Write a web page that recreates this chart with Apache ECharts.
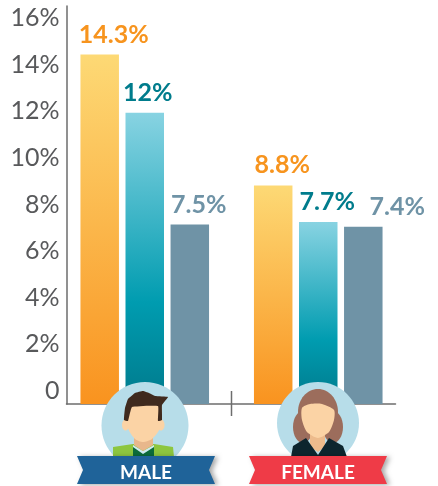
<!DOCTYPE html>
<html>
<head>
    <meta charset="UTF-8">
    <title>Male and female rates</title>
    <script src="https://cdn.jsdelivr.net/npm/echarts@6/dist/echarts.min.js"></script>
    <style>
        html, body { margin: 0; padding: 0; background: #fff; }
    </style>
</head>
<body>
    <div id="chart" style="width:438px; height:486px;"></div>
    <script>
        // values
        var groups = ['MALE', 'FEMALE'];
        var firstBar = [14.4, 9.0];   // heights
        var secondBar = [12.0, 7.5];
        var thirdBar = [7.4, 7.3];
        var firstText = ['14.3%', '8.8%'];   // printed labels
        var secondText = ['12%', '7.7%'];
        var thirdText = ['7.5%', '7.4%'];
        var tickLabels = ['0', '2%', '4%', '6%', '8%', '10%', '12%', '14%', '16%'];

        var fontName = 'Lato, "Noto Sans", sans-serif';

        function vertical(stops) {
            return new echarts.graphic.LinearGradient(0, 0, 0, 1, stops);
        }

        function barSeries(name, values, texts, fill, textColor, shifts) {
            return {
                type: 'bar',
                name: name,
                xAxisIndex: 0,
                yAxisIndex: 0,
                barWidth: 38.5,
                barGap: '17%',
                itemStyle: {color: fill},
                data: values.map(function (v, i) {
                    return {
                        value: v,
                        label: {
                            show: true,
                            position: 'top',
                            formatter: texts[i],
                            color: textColor,
                            fontFamily: fontName,
                            fontWeight: 700,
                            fontSize: 25,
                            offset: shifts[i]
                        }
                    };
                })
            };
        }

        function ribbon(text, x, color) {
            var w = 138, top = 456, bottom = 484, mid = 470, n = 6;
            return [{
                type: 'polygon',
                z: 20,
                shape: {points: [[x, top], [x + w, top], [x + w - n, mid], [x + w, bottom], [x, bottom], [x + n, mid]]},
                style: {fill: color, shadowBlur: 5, shadowOffsetX: 3, shadowOffsetY: 1, shadowColor: 'rgba(0,0,0,0.35)'}
            }, {
                type: 'text',
                z: 21,
                x: x + w / 2,
                y: mid + 3,
                style: {text: text, fill: '#fff', font: '700 19px ' + fontName, align: 'center', verticalAlign: 'middle'}
            }];
        }

        function shape(points, fill, smooth) {
            return {type: 'polygon', z: 10, shape: {points: points, smooth: smooth || 0}, style: {fill: fill}};
        }

        function oval(cx, cy, rx, ry, fill) {
            return {type: 'ellipse', z: 10, shape: {cx: cx, cy: cy, rx: rx, ry: ry}, style: {fill: fill}};
        }

        var skin = '#FBD3A5';
        var femaleHair = '#9C6D5C';

        var maleFigure = [
            oval(145, 425.5, 43.5, 43.5, '#B7DDE9'),
            shape([[113, 447], [133, 444], [154, 444], [173, 447], [174, 457], [113, 457]], '#8DC63F'),
            shape([[133, 446], [143, 452], [154, 446], [154, 457], [133, 457]], '#0B6B3A'),
            shape([[133, 445], [143, 451], [154, 445], [154, 447], [143, 454], [133, 447]], '#CFEAF0'),
            shape([[134, 432], [153, 432], [153, 445], [143, 451], [134, 445]], '#E8B78C'),
            oval(125.5, 425, 3.5, 5.5, skin),
            oval(161, 425, 3.5, 5.5, skin),
            shape([[128, 405], [160, 405], [160, 428], [152, 439], [143, 442], [135, 439], [128, 428]], skin, 0.25),
            shape([[124, 420], [125, 408], [128, 399], [135, 393], [143, 391], [149, 393], [155, 396], [168, 397], [162, 405], [162, 420], [158, 421], [158, 406], [132, 407], [128, 421]], '#3F2A1E', 0.1)
        ];

        var femaleFigure = [
            oval(318, 423, 41, 41, '#B7DDE9'),
            oval(318, 412, 20, 23, femaleHair),
            oval(303, 427, 10, 16, femaleHair),
            oval(333, 427, 10, 16, femaleHair),
            shape([[310, 430], [325, 430], [325, 447], [318, 452], [310, 447]], '#EDBB8C'),
            shape([[291, 457], [293, 446], [306, 438], [318, 455], [329, 438], [343, 446], [347, 457]], '#0C252E'),
            shape([[302, 408], [310, 404], [322, 404], [334, 410], [334, 420], [329, 432], [318, 438], [307, 432], [302, 420]], skin, 0.25)
        ];

        var chart = echarts.init(document.getElementById('chart'), null, {renderer: 'canvas'});

        chart.setOption({
            animation: false,
            grid: [
                // bars
                {left: 58, top: 6, width: 347, height: 398},
                // axis lines
                {left: 66.5, top: 6, width: 329, height: 398},
                // tick labels sit above the baseline in the original
                {left: 66.5, top: 18, width: 329, height: 373}
            ],
            xAxis: [
                {gridIndex: 0, type: 'category', data: groups, show: false},
                {
                    gridIndex: 1, type: 'category', data: groups,
                    axisLine: {lineStyle: {color: '#6d6d6d', width: 1.5}},
                    axisTick: {show: false}, axisLabel: {show: false}
                },
                {gridIndex: 2, type: 'category', data: groups, show: false}
            ],
            yAxis: [
                {gridIndex: 0, type: 'value', min: 0, max: 16.4, show: false},
                {
                    gridIndex: 1, type: 'value', min: 0, max: 16,
                    axisLine: {show: true, lineStyle: {color: '#6d6d6d', width: 1.5}},
                    axisTick: {show: false}, axisLabel: {show: false}, splitLine: {show: false}
                },
                {
                    gridIndex: 2, type: 'value', min: 0, max: 16, interval: 2,
                    axisLine: {show: false}, axisTick: {show: false}, splitLine: {show: false},
                    axisLabel: {
                        margin: 7,
                        color: '#58595B',
                        fontFamily: fontName,
                        fontWeight: 400,
                        fontSize: 25,
                        formatter: function (v) { return tickLabels[v / 2]; }
                    }
                }
            ],
            series: [
                barSeries('first', firstBar, firstText,
                    vertical([{offset: 0, color: '#FDD975'}, {offset: 1, color: '#F9931F'}]),
                    '#F7941E', [[14, -2], [9, -3]]),
                barSeries('second', secondBar, secondText,
                    vertical([{offset: 0, color: '#88D3E2'}, {offset: 0.65, color: '#009CB0'}, {offset: 1, color: '#007A8C'}]),
                    '#007C8C', [[3, -2], [9, -3]]),
                barSeries('third', thirdBar, thirdText, '#6F93A6', '#6F93A6', [[9, -2], [34, -2]])
            ],
            graphic: [{
                type: 'line',
                z: 5,
                shape: {x1: 231.5, y1: 391, x2: 231.5, y2: 416},
                style: {stroke: '#6d6d6d', lineWidth: 1.5}
            }].concat(maleFigure, femaleFigure, ribbon(groups[0], 77, '#1F6399'), ribbon(groups[1], 249, '#EF3B47'))
        });
    </script>
</body>
</html>
